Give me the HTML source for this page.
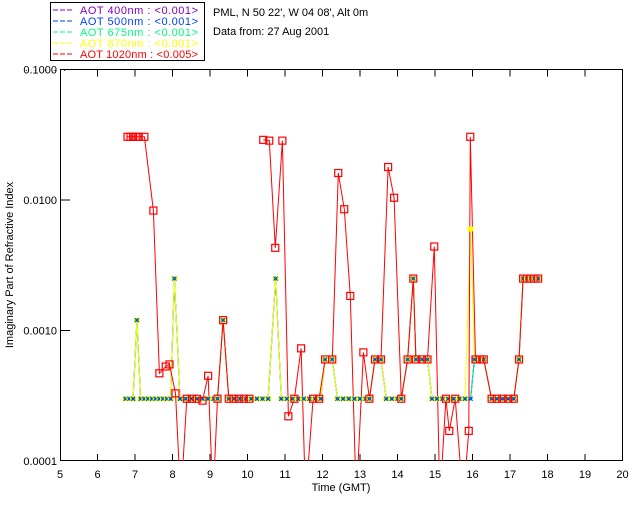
<!DOCTYPE html>
<html><head><meta charset="utf-8"><style>
body{margin:0;background:#fff;}
svg{display:block;font-family:"Liberation Sans","DejaVu Sans",sans-serif;}
.pre{white-space:pre;}
</style></head><body>
<svg id="chart" width="640" height="512" viewBox="0 0 640 512">
  <rect x="0" y="0" width="640" height="512" fill="#fff"/>
  <g>
    <rect x="50.5" y="2.5" width="154" height="58" fill="#fff" stroke="#000"/>
    <g font-size="11" class="pre">
      <line x1="53" y1="10" x2="72" y2="10" stroke="#7f00bf" stroke-dasharray="5,2"/>
      <text x="80" y="14" fill="#7f00bf" textLength="118">AOT  400nm : &lt;0.001&gt;</text>
      <line x1="53" y1="21" x2="72" y2="21" stroke="#0040ff" stroke-dasharray="5,2"/>
      <text x="80" y="25" fill="#0040ff" textLength="118">AOT  500nm : &lt;0.001&gt;</text>
      <line x1="53" y1="32" x2="72" y2="32" stroke="#00ff80" stroke-dasharray="5,2"/>
      <text x="80" y="36" fill="#00ff80" textLength="118">AOT  675nm : &lt;0.001&gt;</text>
      <line x1="53" y1="43" x2="72" y2="43" stroke="#ffff00" stroke-dasharray="5,2"/>
      <text x="80" y="47" fill="#ffff00" textLength="118">AOT  870nm : &lt;0.001&gt;</text>
      <line x1="53" y1="54" x2="72" y2="54" stroke="#ff0000" stroke-dasharray="5,2"/>
      <text x="80" y="58" fill="#ff0000" textLength="118">AOT 1020nm : &lt;0.005&gt;</text>
    </g>
  </g>
  <text x="213" y="16" font-size="11">PML, N 50 22', W 04 08', Alt 0m</text>
  <text x="213" y="35" font-size="11">Data from: 27 Aug 2001</text>
  <text x="25" y="71" font-size="10" letter-spacing="2">. . . . .</text>
  <rect x="60.5" y="69.5" width="562" height="391" fill="none" stroke="#000"/>
  <g id="axes"></g>
  <text transform="translate(13,265) rotate(-90)" text-anchor="middle" font-size="11">Imaginary Part of Refractive Index</text>
  <text x="341" y="491" text-anchor="middle" font-size="11">Time (GMT)</text>
  <defs><clipPath id="pc"><rect x="60" y="69" width="563" height="392"/></clipPath></defs>
  <g id="series" clip-path="url(#pc)"></g>
</svg>
<script>
const xTicks = [5,6,7,8,9,10,11,12,13,14,15,16,17,18,19,20];
const yTicks = [0.0001,0.001,0.01,0.1];
const yTickLabels = ["0.0001","0.0010","0.0100","0.1000"];
const fineTimes = [6.75,6.85,6.95,7.05,7.15,7.25,7.35,7.45,7.55,7.65,7.75,7.85,7.95,8.05,8.2,8.35,8.5,8.65,8.8,8.95,9.1,9.2,9.35,9.5,9.65,9.8,9.95,10.1,10.25,10.4,10.55,10.75,10.9,11.05,11.2,11.35,11.5,11.65,11.8,11.95,12.07,12.26,12.4,12.55,12.7,12.85,13.0,13.15,13.25,13.4,13.56,13.7,13.85,14.0,14.1,14.27,14.42,14.49,14.65,14.8,14.92,15.05,15.2,15.35,15.5,15.65,15.8,15.95,16.05,16.2,16.3,16.51,16.65,16.8,16.95,17.1,17.24,17.35,17.45,17.55,17.65,17.75];
const aot400 = [.0003,.0003,.0003,.0012,.0003,.0003,.0003,.0003,.0003,.0003,.0003,.0003,.0003,.0025,.0003,.0003,.0003,.0003,.0003,.0003,.0003,.0003,.0012,.0003,.0003,.0003,.0003,.0003,.0003,.0003,.0003,.0025,.0003,.0003,.0003,.0003,.0003,.0003,.0003,.0003,.0006,.0006,.0003,.0003,.0003,.0003,.0003,.0003,.0003,.0006,.0006,.0003,.0003,.0003,.0003,.0006,.0025,.0006,.0006,.0006,.0003,.0003,.0003,.0003,.0003,.0003,.0003,.0003,.0006,.0006,.0006,.0003,.0003,.0003,.0003,.0003,.0006,.0025,.0025,.0025,.0025,.0025];
const aot500 = aot400.slice();
const aot675 = aot400.slice();
const aot870 = aot400.slice(); aot870[67] = 0.006;
const redTimes = [6.8,6.88,6.95,7.02,7.1,7.25,7.49,7.65,7.82,7.92,8.08,8.22,8.38,8.52,8.65,8.8,8.95,9.08,9.2,9.35,9.5,9.63,9.77,9.9,10.05,10.2,10.42,10.58,10.74,10.93,11.09,11.25,11.43,11.55,11.75,11.91,12.07,12.26,12.42,12.58,12.74,12.9,13.09,13.25,13.4,13.56,13.75,13.91,14.1,14.27,14.42,14.49,14.65,14.8,14.98,15.13,15.29,15.38,15.54,15.75,15.9,15.94,16.08,16.2,16.3,16.51,16.65,16.8,16.95,17.1,17.24,17.35,17.45,17.55,17.65,17.75];
const aot1020 = [.0305,.0305,.0305,.0305,.0305,.0305,.0083,.00047,.00053,.00055,.00033,.00005,.0003,.0003,.0003,.00029,.00045,.00005,.0003,.0012,.0003,.0003,.0003,.0003,.0003,null,.0289,.0285,.0043,.0285,.00022,.0003,.00073,.00005,.0003,.0003,.0006,.0006,.0161,.0085,.00184,.00005,.00068,.0003,.0006,.0006,.0179,.0104,.0003,.0006,.0025,.0006,.0006,.0006,.0044,.00005,.0003,.00017,.0003,.00005,.00017,.0305,.0006,.0006,.0006,.0003,.0003,.0003,.0003,.0003,.0006,.0025,.0025,.0025,.0025,.0025];

const X0=60, X1=622.5, YB=461, YT=69.5;
function xs(t){return X0+(t-5)*(X1-X0)/15;}
function ys(v){return YB-(Math.log10(v)+4)*(YB-YT)/3;}
const NS="http://www.w3.org/2000/svg";
function mk(tag,attrs,parent){const e=document.createElementNS(NS,tag);for(const k in attrs)e.setAttribute(k,attrs[k]);parent.appendChild(e);return e;}
const axes=document.getElementById('axes');
xTicks.forEach((t,i)=>{
  const x=xs(t);
  if(i>0&&i<xTicks.length-1){
    const a=mk('line',{x1:x,y1:YB,x2:x,y2:YB-7,stroke:'#000'},axes);
    
    
    const b=mk('line',{x1:x,y1:YT,x2:x,y2:YT+7,stroke:'#000'},axes);
    
    
  }
  const tx=mk('text',{x:x,y:478,'text-anchor':'middle','font-size':'11'},axes);
  tx.textContent=t;
  
  
});
yTicks.forEach((v,i)=>{
  const y=ys(v);
  if(i>0&&i<yTicks.length-1){
    const a=mk('line',{x1:X0,y1:y,x2:X0+10,y2:y,stroke:'#000'},axes);
    
    
  }
  const tx=mk('text',{x:57,y:y+4,'text-anchor':'end','font-size':'11'},axes);
  tx.textContent=yTickLabels[i];
  
  
});
const g=document.getElementById('series');
function drawLine(times,vals,color,name){
  let d='',pen=false;
  times.forEach((t,i)=>{const v=vals[i];if(v==null){pen=false;return;}d+=(pen?'L':'M')+xs(t).toFixed(1)+','+ys(v).toFixed(1);pen=true;});
  const p=mk('path',{d:d,fill:'none',stroke:color,'stroke-width':'1'},g);
  
  
}
drawLine(fineTimes,aot400,'#7f00bf','line-aot-400');
drawLine(fineTimes,aot500,'#0040ff','line-aot-500');
drawLine(fineTimes,aot675,'#00ff80','line-aot-675');
drawLine(fineTimes,aot870,'#ffff00','line-aot-870');
drawLine(redTimes,aot1020,'#ff0000','line-aot-1020');
fineTimes.forEach((t,i)=>{
  const x=xs(t),y=ys(aot870[i]);
  const r=mk('rect',{x:x-3,y:y-2.5,width:6,height:5,fill:'#ffff00'},g);
  
  
  const y2=ys(aot675[i]);
  const c=mk('path',{d:`M${x-2},${y2}h4M${x},${y2-2}v4`,stroke:'#00e070','stroke-width':'1'},g);
  
  
  const y3=ys(aot500[i]);
  const b=mk('path',{d:`M${x-2},${y3-2}l4,4M${x+2},${y3-2}l-4,4`,stroke:'#0030ff','stroke-width':'1'},g);
  
  
});
redTimes.forEach((t,i)=>{
  const v=aot1020[i]; if(v==null) return;
  const s=mk('rect',{x:xs(t)-3.5,y:ys(v)-3.5,width:7,height:7,fill:'none',stroke:'#ff0000','stroke-width':'1.2'},g);
  
  
});
</script>
</body></html>
